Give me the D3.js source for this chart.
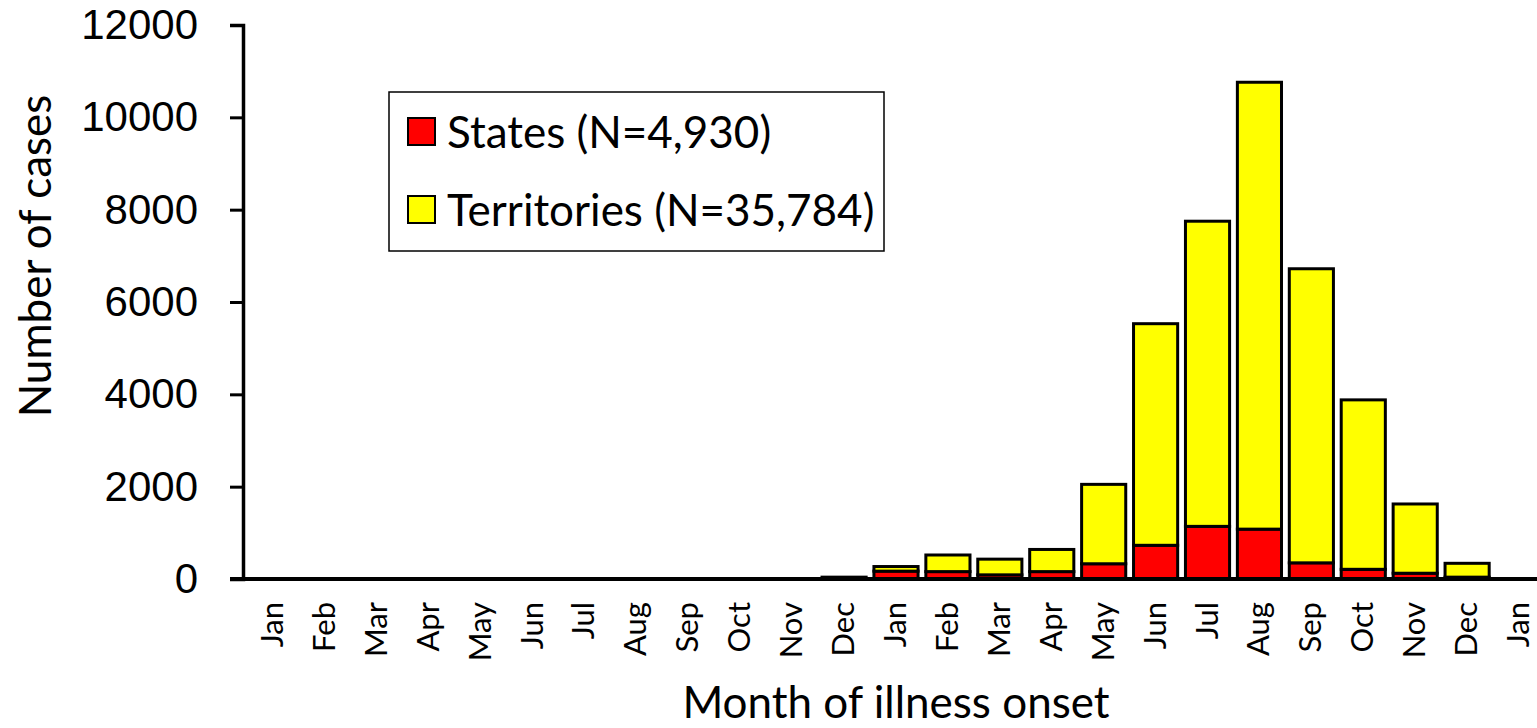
<!DOCTYPE html>
<html>
<head>
<meta charset="utf-8">
<script src="https://cdn.jsdelivr.net/npm/d3@7"></script>
<style>
  body { margin: 0; background: #fff; }
  svg { display: block; font-family: Lato, "Open Sans", sans-serif; }
</style>
</head>
<body>
<svg id="mainSvg" width="1537" height="728"></svg>
<script>
// month of illness onset, two years plus the following January
const months = ['Jan','Feb','Mar','Apr','May','Jun','Jul','Aug','Sep','Oct','Nov','Dec',
                'Jan','Feb','Mar','Apr','May','Jun','Jul','Aug','Sep','Oct','Nov','Dec','Jan'];
const states      = [0,0,0,0,0,0,0,0,0,0,0,10, 170,160,90,160,330,730,1140,1080,350,210,125,40, 0];
const territories = [0,0,0,0,0,0,0,0,0,0,0,30, 100,360,340,480,1720,4800,6610,9680,6370,3670,1500,300, 0];
const yTicks = [0,2000,4000,6000,8000,10000,12000];
const seriesNames = ['States (N=4,930)', 'Territories (N=35,784)'];
const seriesColors = ['#ff0000', '#ffff00'];

let svg = d3.select('#mainSvg');

let x = d3.scaleBand()
  .domain(d3.range(months.length))
  .range([247, 1545])
  .paddingInner(0.15)
  .paddingOuter(0.075);

let y = d3.scaleLinear()
  .domain([0, 12000])
  .range([579, 25]);

let rows = months.map((m, i) => ({i: i, states: states[i], territories: territories[i]}));
let stacked = d3.stack().keys(['states', 'territories'])(rows);

// bars
svg.append('g').selectAll('g')
  .data(stacked)
  .join('g')
    .attr('fill', (d, k) => seriesColors[k])
  .selectAll('rect')
  .data(d => d.filter(p => p[1] - p[0] > 0))
  .join('rect')
    .attr('x', d => x(d.data.i))
    .attr('width', x.bandwidth())
    .attr('y', d => y(d[1]))
    .attr('height', d => y(d[0]) - y(d[1]))
    .attr('stroke', '#000')
    .attr('stroke-width', 3);

// y axis
let yAxis = svg.append('g')
  .attr('transform', 'translate(243,0)')
  .call(d3.axisLeft(y).tickValues(yTicks).tickSize(13).tickPadding(32).tickFormat(d3.format('d')));
yAxis.select('.domain').attr('stroke-width', 3.5);
yAxis.selectAll('.tick line').attr('stroke-width', 3);
yAxis.selectAll('text').attr('font-size', 42).attr('fill', '#000');

// x axis
let xAxis = svg.append('g')
  .attr('transform', 'translate(0,579)');
xAxis.append('line')
  .attr('x1', 230).attr('x2', 1537)
  .attr('stroke', '#000').attr('stroke-width', 4);
xAxis.selectAll('text')
  .data(months)
  .join('text')
    .attr('transform', (d, i) => `translate(${x(i) + x.bandwidth() / 2 + 10},23) rotate(-90)`)
    .attr('text-anchor', 'end')
    .attr('font-size', 31)
    .text(d => d);

// axis titles
svg.append('text')
  .attr('transform', 'translate(51,256) rotate(-90)')
  .attr('text-anchor', 'middle')
  .attr('font-size', 44)
  .text('Number of cases');
svg.append('text')
  .attr('x', 896).attr('y', 718)
  .attr('text-anchor', 'middle')
  .attr('font-size', 44)
  .text('Month of illness onset');

// legend
let legend = svg.append('g');
legend.append('rect')
  .attr('x', 389).attr('y', 92).attr('width', 495).attr('height', 159)
  .attr('fill', '#fff').attr('stroke', '#000').attr('stroke-width', 1.5);
let items = legend.selectAll('g.item')
  .data(seriesNames)
  .join('g')
    .attr('class', 'item')
    .attr('transform', (d, i) => `translate(408,${118 + i * 78})`);
items.append('rect')
  .attr('width', 27).attr('height', 27)
  .attr('fill', (d, i) => seriesColors[i])
  .attr('stroke', '#000').attr('stroke-width', 2);
items.append('text')
  .attr('x', 39).attr('y', 14).attr('dy', '0.36em')
  .attr('font-size', 44)
  .text(d => d);
</script>
</body>
</html>
